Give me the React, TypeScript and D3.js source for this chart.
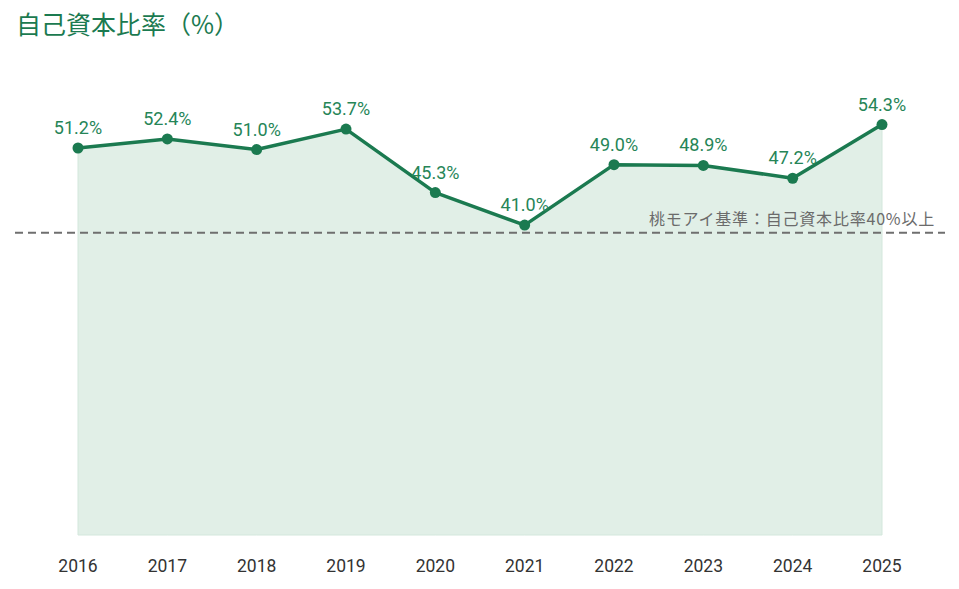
import React from "react";
import * as d3 from "d3";

const years = ["2016", "2017", "2018", "2019", "2020", "2021", "2022", "2023", "2024", "2025"];
const equityRatio = [51.2, 52.4, 51.0, 53.7, 45.3, 41.0, 49.0, 48.9, 47.2, 54.3];
const benchmark = 40;
const benchmarkLabel = "桃モアイ基準：自己資本比率40%以上";
const title = "自己資本比率（%）";

const W = 959;
const H = 589;
const GREEN = "#1b7a50";
const FONT = "'Noto Sans CJK JP', 'Noto Sans', sans-serif";
const NUM_FONT = "Roboto, 'Noto Sans CJK JP', sans-serif";

export default function App() {
  const x = d3.scalePoint<string>().domain(years).range([78, 882]);
  const y = d3.scaleLinear().domain([0, 60]).range([535, 81.5]);

  const pts = years.map((yr, i) => ({ yr, v: equityRatio[i] }));
  const line = d3
    .line<{ yr: string; v: number }>()
    .x((d) => x(d.yr)!)
    .y((d) => y(d.v));
  const area = d3
    .area<{ yr: string; v: number }>()
    .x((d) => x(d.yr)!)
    .y0(y(0))
    .y1((d) => y(d.v));

  return (
    <svg
      width={W}
      height={H}
      style={{ position: "absolute", left: 0, top: 0, background: "#fff" }}
    >
      <text x={16} y={34} fill={GREEN} fontSize={25} fontFamily={FONT}>
        {title}
      </text>
      <path d={area(pts)!} fill="#e1efe7" stroke="#d3e7dc" strokeWidth={1} />
      <line
        x1={15}
        x2={945}
        y1={y(benchmark)}
        y2={y(benchmark)}
        stroke="#6f6f6f"
        strokeWidth={2}
        strokeDasharray="8 5"
      />
      <text
        x={935}
        y={y(benchmark) - 8}
        textAnchor="end"
        fill="#6b6b6b"
        fontSize={16}
        letterSpacing={0.8}
        fontFamily={FONT}
      >
        {benchmarkLabel}
      </text>
      <path d={line(pts)!} fill="none" stroke={GREEN} strokeWidth={3.5} strokeLinejoin="round" />
      {pts.map((d) => (
        <g key={d.yr}>
          <circle cx={x(d.yr)} cy={y(d.v)} r={5.5} fill={GREEN} />
          <text
            x={x(d.yr)}
            y={y(d.v) - 14}
            textAnchor="middle"
            fill="#268557"
            fontSize={18}
            fontFamily={NUM_FONT}
          >
            {d.v.toFixed(1)}%
          </text>
        </g>
      ))}
      {years.map((yr) => (
        <text
          key={yr}
          x={x(yr)}
          y={572}
          textAnchor="middle"
          fill="#333"
          fontSize={17.5}
          fontFamily={NUM_FONT}
        >
          {yr}
        </text>
      ))}
    </svg>
  );
}
